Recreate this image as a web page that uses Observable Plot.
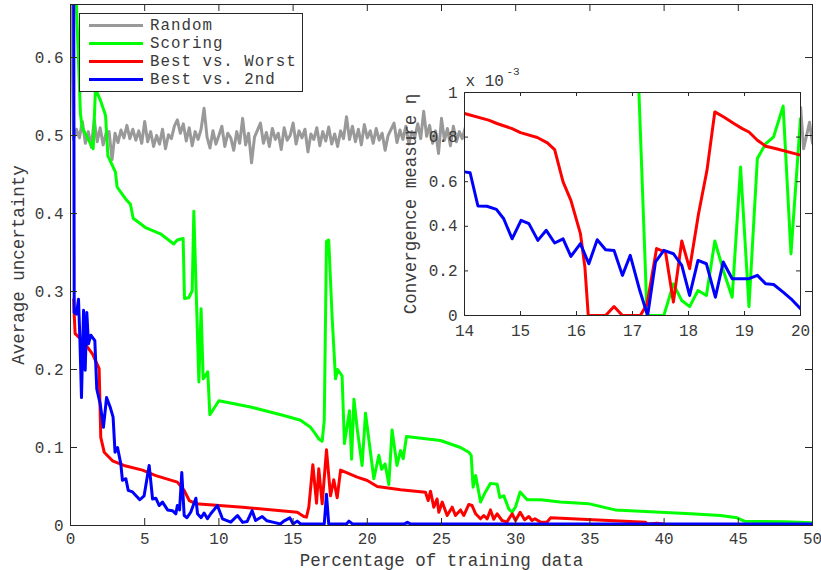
<!DOCTYPE html>
<html><head><meta charset="utf-8">
<script src="https://cdn.jsdelivr.net/npm/d3@7"></script>
<script src="https://cdn.jsdelivr.net/npm/@observablehq/plot@0.6"></script>
<style>
body{margin:0;background:white;}
#wrap{position:relative;width:821px;height:570px;overflow:hidden;}
#wrap svg{position:absolute;background:transparent !important;}
</style>
</head><body><div id="wrap"></div>
<script>
// ---------- DATA ----------
const seriesNames = ["Random", "Scoring", "Best vs. Worst", "Best vs. 2nd"];
const seriesColors = ["#999999", "#00ff00", "#ff0000", "#0000ff"];

const xTicks = [0, 5, 10, 15, 20, 25, 30, 35, 40, 45, 50];
const yTicks = [0, 0.1, 0.2, 0.3, 0.4, 0.5, 0.6];
const insetXTicks = [14, 15, 16, 17, 18, 19, 20];
const insetYTicks = [0, 0.2, 0.4, 0.6, 0.8, 1];

// Random: sampled every 0.2 % from 0 to 50
const randomStep = 0.2;
const randomY = [
0.75,0.495,0.508,0.497,0.518,0.490,0.505,0.485,0.520,0.492,
0.510,0.488,0.503,0.505,0.469,0.503,0.491,0.507,0.497,0.513,
0.496,0.508,0.494,0.506,0.490,0.518,0.492,0.505,0.486,0.500,
0.489,0.508,0.483,0.501,0.496,0.512,0.520,0.503,0.515,0.493,
0.510,0.487,0.505,0.495,0.508,0.535,0.498,0.484,0.506,0.489,
0.500,0.512,0.486,0.503,0.497,0.481,0.505,0.490,0.522,0.488,
0.503,0.465,0.498,0.507,0.516,0.490,0.504,0.486,0.509,0.495,
0.503,0.482,0.510,0.494,0.500,0.516,0.489,0.506,0.497,0.508,
0.479,0.502,0.495,0.510,0.487,0.505,0.493,0.511,0.489,0.502,
0.486,0.506,0.496,0.524,0.495,0.512,0.492,0.508,0.488,0.514,
0.497,0.506,0.490,0.509,0.494,0.503,0.481,0.500,0.508,0.516,
0.491,0.507,0.495,0.512,0.489,0.505,0.498,0.515,0.496,0.531,
0.499,0.513,0.490,0.506,0.477,0.522,0.494,0.509,0.487,0.512,
0.492,0.505,0.496,0.510,0.489,0.504,0.493,0.508,0.497,0.511,
0.488,0.503,0.495,0.514,0.491,0.506,0.484,0.509,0.498,0.502,
0.515,0.490,0.507,0.493,0.511,0.486,0.504,0.497,0.518,0.492,
0.506,0.489,0.502,0.513,0.495,0.508,0.483,0.505,0.499,0.510,
0.494,0.516,0.490,0.503,0.487,0.509,0.496,0.512,0.491,0.505,
0.498,0.520,0.493,0.507,0.485,0.502,0.511,0.494,0.508,0.489,
0.504,0.496,0.513,0.490,0.506,0.482,0.509,0.497,0.515,0.492,
0.507,0.488,0.503,0.511,0.494,0.517,0.491,0.505,0.486,0.510,
0.496,0.508,0.490,0.513,0.497,0.504,0.484,0.509,0.493,0.519,
0.495,0.506,0.489,0.511,0.498,0.503,0.487,0.514,0.492,0.508,
0.500,0.516,0.491,0.505,0.483,0.510,0.496,0.507,0.489,0.512,
0.494,0.509,0.497,0.521,0.490,0.506,0.536,0.483,0.500,0.517,
0.490];

const scoringX = [0.3,0.67,0.79,1.53,1.68,2.02,2.36,2.52,3.03,3.14,3.7,4.04,4.22,5.05,6.06,6.96,7.19,7.59,7.68,7.97,8.2,8.31,8.65,8.8,8.94,9.25,9.39,10.0,12.13,14.37,15.5,16.17,16.5,16.73,16.96,17.1,17.25,17.4,17.63,17.86,18.0,18.3,18.46,18.8,18.94,19.1,19.32,19.65,19.88,20.44,20.78,20.96,21.2,21.45,21.67,22.0,22.24,22.42,22.64,24.93,26.28,26.84,27.0,27.13,27.3,27.4,27.63,27.96,28.3,28.75,28.93,29.2,29.54,29.76,29.99,30.3,30.77,31.67,33.0,34.9,36.7,41.8,43.8,44.92,45.4,48.1,49.9,50];
const scoringY = [0.72,0.528,0.51,0.483,0.56,0.545,0.526,0.474,0.453,0.434,0.419,0.412,0.394,0.382,0.374,0.361,0.366,0.368,0.291,0.292,0.301,0.403,0.184,0.278,0.188,0.197,0.142,0.160,0.152,0.141,0.135,0.126,0.1175,0.111,0.108,0.135,0.364,0.366,0.267,0.188,0.2,0.192,0.105,0.147,0.085,0.162,0.124,0.077,0.144,0.06,0.09,0.072,0.079,0.0526,0.1226,0.077,0.096,0.0855,0.114,0.109,0.1,0.094,0.09,0.049,0.064,0.054,0.03,0.043,0.054,0.053,0.036,0.038,0.021,0.017,0.024,0.043,0.033,0.033,0.030,0.028,0.020,0.015,0.0128,0.0098,0.0056,0.0047,0.0035,0.0033];

const worstX = [0.22,0.25,0.31,0.81,1.48,1.93,2.04,2.27,2.83,3.6,4.85,5.75,7.2,7.66,8.0,8.45,11.6,15.28,15.72,15.9,16.06,16.33,16.58,16.73,16.96,17.25,17.52,17.74,17.97,18.2,19.32,20.0,20.67,22.24,23.92,24.1,24.26,24.48,24.7,24.82,25.05,25.38,25.72,25.94,26.28,26.5,26.84,27.06,27.3,27.63,27.85,28.08,28.3,28.52,28.75,29.08,29.4,29.76,29.99,30.3,30.6,30.88,31.1,31.3,31.67,32.1,32.35,38.75,38.86,39.53,40.0,45,50];
const worstY = [0.29,0.271,0.246,0.237,0.22,0.201,0.113,0.094,0.083,0.077,0.071,0.064,0.0556,0.045,0.032,0.028,0.0235,0.017,0.0115,0.0107,0.0235,0.078,0.0286,0.0727,0.0278,0.097,0.038,0.0586,0.0355,0.071,0.062,0.0577,0.05,0.0457,0.0427,0.032,0.044,0.0235,0.034,0.017,0.03,0.0128,0.0235,0.0128,0.02,0.0128,0.027,0.0256,0.015,0.0086,0.0128,0.0086,0.02,0.008,0.015,0.0064,0.0043,0.015,0.0064,0.017,0.0073,0.0115,0.0064,0.0086,0.0043,0.0043,0.0098,0.0043,0.002,0.003,0.0015,0.001,0.0008];

const secondX = [0.2,0.25,0.4,0.54,0.63,0.74,0.88,0.99,1.1,1.21,1.37,1.64,1.77,2.0,2.22,2.43,2.67,2.87,3.0,3.17,3.39,3.5,3.73,3.89,4.18,4.67,4.96,5.3,5.53,5.75,5.98,6.2,6.54,6.87,7.1,7.2,7.35,7.5,7.66,7.85,8.1,8.45,8.56,8.8,9.0,9.23,9.45,9.9,10.24,10.8,11.25,11.6,11.9,12.24,12.47,12.92,13.24,13.7,14.15,14.37,14.78,15.0,15.28,15.5,17.1,17.25,17.4,18.6,18.76,19.0,22.5,22.7,22.9,50];
const secondY = [0.9,0.273,0.271,0.29,0.241,0.164,0.276,0.199,0.273,0.233,0.244,0.237,0.175,0.156,0.126,0.164,0.152,0.139,0.094,0.1,0.079,0.058,0.06,0.045,0.043,0.033,0.038,0.077,0.034,0.035,0.0256,0.03,0.02,0.019,0.015,0.0256,0.02,0.068,0.0128,0.01,0.017,0.035,0.015,0.01,0.016,0.0086,0.015,0.0256,0.0086,0.0043,0.0128,0.004,0.005,0.019,0.0064,0.0115,0.006,0.004,0.002,0.0056,0.0098,0.002,0.0056,0.002,0.002,0.04,0.002,0.002,0.0056,0.002,0.002,0.004,0.002,0.002];

// Inset: convergence measure (x 10^-3)
const insetWorstX = [14.0,14.43,14.58,14.85,15.0,15.3,15.48,15.61,15.76,15.9,16.07,16.15,16.21,16.52,16.67,16.82,17.14,17.26,17.43,17.59,17.73,17.88,18.02,18.18,18.33,18.47,18.63,18.81,18.96,19.08,19.23,19.38,19.55,20.0];
const insetWorstY = [0.906,0.876,0.861,0.838,0.82,0.798,0.774,0.744,0.599,0.516,0.367,0.217,0,0,0.04,0,0,0.052,0.3,0.284,0.06,0.334,0.21,0.457,0.651,0.913,0.89,0.861,0.838,0.823,0.786,0.759,0.749,0.719];
const insetSecondX = [14.0,14.1,14.24,14.4,14.57,14.7,14.85,15.01,15.15,15.31,15.46,15.61,15.76,15.9,16.07,16.22,16.37,16.52,16.67,16.82,16.96,17.13,17.27,17.41,17.56,17.73,17.88,18.02,18.17,18.32,18.48,18.62,18.78,19.08,19.23,19.38,19.52,19.69,19.83,20.0];
const insetSecondY = [0.644,0.64,0.491,0.49,0.476,0.434,0.344,0.427,0.412,0.337,0.382,0.325,0.344,0.265,0.322,0.232,0.34,0.295,0.292,0.18,0.27,0.112,0,0.24,0.292,0.277,0.225,0.09,0.247,0.232,0.082,0.24,0.165,0.165,0.18,0.142,0.139,0.105,0.075,0.03];
const insetScoringX = [17.05,17.26,17.56,17.73,17.88,18.02,18.17,18.32,18.47,18.63,18.78,18.93,19.08,19.23,19.38,19.52,19.69,19.83,20.0];
const insetScoringY = [1.45,0,0,0.142,0.067,0.04,0.112,0.09,0.334,0.195,0.082,0.666,0.04,0.704,0.771,0.801,0.939,0.277,0.883];

// ---------- BUILD ----------
const zip = (xs, ys) => xs.map((x, i) => ({x, y: ys[i]}));
const randomData = randomY.map((y, i) => ({x: i * randomStep, y}));
const mainSeries = [randomData, zip(scoringX, scoringY), zip(worstX, worstY), zip(secondX, secondY)];
const insetSeries = [null, zip(insetScoringX, insetScoringY), zip(insetWorstX, insetWorstY), zip(insetSecondX, insetSecondY)];

const FONT = "Liberation Mono, Courier New, monospace";
const TXT = "#3a3a3a";
const AX = "#262626";

const M = {w: 821, h: 570, l: 70, r: 9, t: 4, b: 45};
const mIW = M.w - M.l - M.r, mIH = M.h - M.t - M.b;

const main = Plot.plot({
  width: M.w, height: M.h,
  marginLeft: M.l, marginRight: M.r, marginTop: M.t, marginBottom: M.b,
  x: {domain: [0, 50]},
  y: {domain: [0, 0.668]},
  style: {fontFamily: FONT, fontSize: "16px", color: TXT, overflow: "visible"},
  marks: [
    ...mainSeries.map((d, i) => Plot.line(d, {x: "x", y: "y", stroke: seriesColors[i], strokeWidth: 3, clip: true, strokeLinejoin: "round"})),
    Plot.frame({stroke: AX}),
    Plot.tickX(xTicks, {x: d => d, insetTop: mIH - 7, stroke: AX}),
    Plot.tickX(xTicks, {x: d => d, insetBottom: mIH - 7, stroke: AX}),
    Plot.tickY(yTicks, {y: d => d, insetRight: mIW - 7, stroke: AX}),
    Plot.tickY(yTicks, {y: d => d, insetLeft: mIW - 7, stroke: AX}),
    Plot.axisX({ticks: xTicks, tickSize: 0, tickPadding: 7, label: null, tickFormat: d => String(d), fill: TXT}),
    Plot.axisY({ticks: yTicks, tickSize: 0, tickPadding: 7, label: null, tickFormat: d => String(d), fill: TXT}),
    Plot.text(["Average uncertainty"], {frameAnchor: "left", textAnchor: "middle", lineAnchor: "middle", rotate: -90, dx: -52, fontSize: 17.5, fill: TXT}),
    Plot.text(["Percentage of training data"], {frameAnchor: "bottom", textAnchor: "middle", lineAnchor: "middle", dy: 35, fontSize: 17.5, fill: TXT})
  ]
});
main.style.left = "0px"; main.style.top = "0px";
document.getElementById("wrap").appendChild(main);

const I = {left: 390, top: 55, w: 420, h: 300, l: 74, r: 10, t: 37, b: 40};
const iIW = I.w - I.l - I.r, iIH = I.h - I.t - I.b;
const inset = Plot.plot({
  width: I.w, height: I.h,
  marginLeft: I.l, marginRight: I.r, marginTop: I.t, marginBottom: I.b,
  x: {domain: [14, 20]},
  y: {domain: [0, 1]},
  style: {fontFamily: FONT, fontSize: "16px", color: TXT, overflow: "visible"},
  marks: [
    Plot.frame({fill: "white", stroke: "none"}),
    ...insetSeries.map((d, i) => d ? Plot.line(d, {x: "x", y: "y", stroke: seriesColors[i], strokeWidth: 3, clip: true, strokeLinejoin: "round"}) : null),
    Plot.frame({stroke: AX}),
    Plot.tickX(insetXTicks, {x: d => d, insetTop: iIH - 4, stroke: AX}),
    Plot.tickX(insetXTicks, {x: d => d, insetBottom: iIH - 4, stroke: AX}),
    Plot.tickY(insetYTicks, {y: d => d, insetRight: iIW - 4, stroke: AX}),
    Plot.tickY(insetYTicks, {y: d => d, insetLeft: iIW - 4, stroke: AX}),
    Plot.axisX({ticks: insetXTicks, tickSize: 0, tickPadding: 9, label: null, tickFormat: d => String(d), fill: TXT}),
    Plot.axisY({ticks: insetYTicks, tickSize: 0, tickPadding: 7, label: null, tickFormat: d => String(d), fill: TXT}),
    Plot.text(["Convergence measure η"], {frameAnchor: "left", textAnchor: "middle", lineAnchor: "middle", rotate: -90, dx: -54, fontSize: 17.5, fill: TXT}),
    Plot.text(["x 10"], {frameAnchor: "top-left", textAnchor: "start", lineAnchor: "middle", dx: 1, dy: -12, fontSize: 16, fill: TXT}),
    Plot.text(["-3"], {frameAnchor: "top-left", textAnchor: "start", lineAnchor: "middle", dx: 42, dy: -21, fontSize: 11, fill: TXT})
  ].filter(Boolean)
});
inset.style.left = I.left + "px"; inset.style.top = I.top + "px";
document.getElementById("wrap").appendChild(inset);

// ---------- LEGEND ----------
const ns = "http://www.w3.org/2000/svg";
const leg = document.createElementNS(ns, "svg");
leg.setAttribute("width", 225); leg.setAttribute("height", 80);
leg.style.left = "78.5px"; leg.style.top = "12.5px";
const box = document.createElementNS(ns, "rect");
box.setAttribute("x", 0.5); box.setAttribute("y", 0.5); box.setAttribute("width", 223); box.setAttribute("height", 78);
box.setAttribute("fill", "white"); box.setAttribute("stroke", AX);
leg.appendChild(box);
seriesNames.forEach((name, i) => {
  const cy = 12.5 + i * 18;
  const ln = document.createElementNS(ns, "line");
  ln.setAttribute("x1", 10); ln.setAttribute("x2", 64); ln.setAttribute("y1", cy); ln.setAttribute("y2", cy);
  ln.setAttribute("stroke", seriesColors[i]); ln.setAttribute("stroke-width", 3.2);
  leg.appendChild(ln);
  const t = document.createElementNS(ns, "text");
  t.setAttribute("x", 71); t.setAttribute("y", cy); t.setAttribute("dominant-baseline", "central");
  t.setAttribute("font-family", FONT); t.setAttribute("font-size", "15.8px"); t.setAttribute("letter-spacing", "1px"); t.setAttribute("fill", TXT);
  t.textContent = name;
  leg.appendChild(t);
});
document.getElementById("wrap").appendChild(leg);
</script>
</body></html>
